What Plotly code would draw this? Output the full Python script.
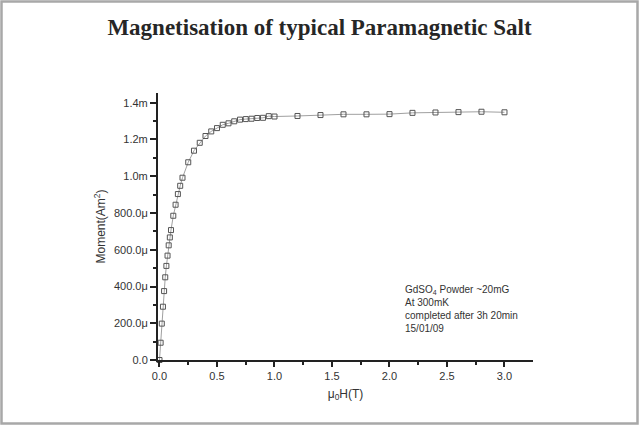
import plotly.graph_objects as go

# Data (field in T, moment in A·m²)
field_T = [0, 0.01, 0.02, 0.03, 0.04, 0.05, 0.06, 0.07, 0.08, 0.09, 0.10,
           0.12, 0.14, 0.16, 0.18, 0.20, 0.25, 0.30, 0.35, 0.40, 0.45, 0.50,
           0.55, 0.60, 0.65, 0.70, 0.75, 0.80, 0.85, 0.90, 0.95, 1.00,
           1.2, 1.4, 1.6, 1.8, 2.0, 2.2, 2.4, 2.6, 2.8, 3.0]
moment_mAm2 = [0.0, 0.094, 0.198, 0.290, 0.375, 0.450, 0.512, 0.568, 0.624, 0.667, 0.707,
               0.785, 0.845, 0.903, 0.948, 0.992, 1.076, 1.139, 1.182, 1.219, 1.244, 1.262,
               1.280, 1.288, 1.299, 1.308, 1.311, 1.313, 1.317, 1.318, 1.327, 1.325,
               1.328, 1.333, 1.337, 1.337, 1.338, 1.345, 1.347, 1.349, 1.351, 1.348]
moment_Am2 = [v * 1e-3 for v in moment_mAm2]

y_tickvals = [0, 2e-4, 4e-4, 6e-4, 8e-4, 1.0e-3, 1.2e-3, 1.4e-3]
y_ticktext = ["0.0", "200.0\u03bc", "400.0\u03bc", "600.0\u03bc", "800.0\u03bc", "1.0m", "1.2m", "1.4m"]
x_tickvals = [0.0, 0.5, 1.0, 1.5, 2.0, 2.5, 3.0]
x_ticktext = ["0.0", "0.5", "1.0", "1.5", "2.0", "2.5", "3.0"]

title_text = "Magnetisation of typical Paramagnetic Salt"
note_text = "GdSO<sub>4</sub> Powder ~20mG<br>At 300mK<br>completed after 3h 20min<br>15/01/09"

W, H = 639, 425
ML, MR, MT, MB = 158, W - 533, 93, H - 360

fig = go.Figure()
fig.add_trace(go.Scatter(
    x=field_T, y=moment_Am2, mode="lines+markers",
    line=dict(color="#a0a0a0", width=1),
    marker=dict(symbol="square-open", size=5, color="#555555", line=dict(width=1, color="#555555")),
    cliponaxis=False, showlegend=False, hoverinfo="skip",
))

axis_font = dict(family="Liberation Sans, Arial, sans-serif", size=11, color="#333333")

fig.update_layout(
    width=W, height=H,
    margin=dict(l=ML, r=MR, t=MT, b=MB),
    paper_bgcolor="white", plot_bgcolor="white",
    title=dict(text="<b>" + title_text + "</b>", x=0.5, xref="container", xanchor="center",
               y=1 - 27 / H, yref="container", yanchor="middle",
               font=dict(family="Liberation Serif, Times New Roman, serif", size=23, color="#262626")),
    xaxis=dict(range=[-0.013, 3.248], tickvals=x_tickvals, ticktext=x_ticktext,
               showline=True, linecolor="#222222", linewidth=2, mirror=False,
               ticks="outside", ticklen=5, tickwidth=1.5, tickcolor="#222222",
               minor=dict(tickvals=[0.25, 0.75, 1.25, 1.75, 2.25, 2.75, 3.25], ticks="outside",
                          ticklen=3, tickwidth=1.5, tickcolor="#222222"),
               showgrid=False, zeroline=False, tickfont=axis_font,
               title=dict(text="\u03bc<sub>0</sub>H(T)", font=dict(family="Liberation Sans, Arial, sans-serif", size=12, color="#333333"), standoff=8)),
    yaxis=dict(range=[0, 1.453e-3], tickvals=y_tickvals, ticktext=y_ticktext,
               showline=True, linecolor="#222222", linewidth=2, mirror=False,
               ticks="outside", ticklen=6, tickwidth=1.5, tickcolor="#222222",
               minor=dict(tickvals=[1e-4, 3e-4, 5e-4, 7e-4, 9e-4, 1.1e-3, 1.3e-3], ticks="outside",
                          ticklen=3, tickwidth=1.5, tickcolor="#222222"),
               showgrid=False, zeroline=False, tickfont=axis_font,
               title=dict(text="Moment(Am<sup>2</sup>)", font=dict(family="Liberation Sans, Arial, sans-serif", size=12, color="#333333"), standoff=6)),
)

fig.add_annotation(
    text=note_text, x=2.12, y=0.000422, xref="x", yref="y",
    xanchor="left", yanchor="top", align="left", showarrow=False,
    font=dict(family="Liberation Sans, Arial, sans-serif", size=10, color="#333333"),
)

# grey border round the whole picture (paper coordinates extended past the plot area)
pw, ph = W - ML - MR, H - MT - MB
x0 = (1.5 - ML) / pw
x1 = (W - 1.5 - ML) / pw
y0 = (1.5 - MB) / ph
y1 = (H - 1.5 - MB) / ph
fig.add_shape(type="rect", xref="paper", yref="paper", x0=x0, x1=x1, y0=y0, y1=y1,
              line=dict(color="#a8a8a8", width=2.5), fillcolor="rgba(0,0,0,0)", layer="above")

fig.write_html("out.html", config={"displayModeBar": False},
               post_script="document.body.style.margin='0';document.body.style.overflow='hidden';")
